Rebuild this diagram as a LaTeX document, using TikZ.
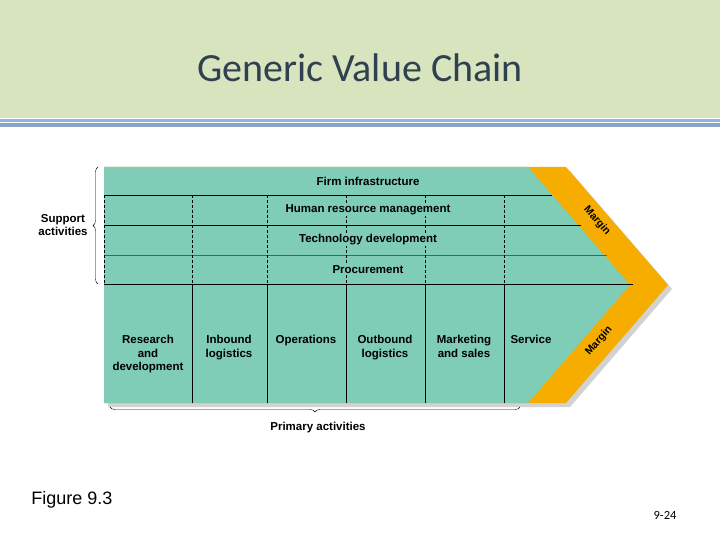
\documentclass[tikz,border=0pt]{standalone}
\usepackage{fontspec}
\setmainfont{Liberation Sans}
\newfontfamily\titlefont{Carlito}
\usetikzlibrary{decorations.pathreplacing}
\definecolor{teal1}{HTML}{7FCDB6}
\definecolor{orng}{HTML}{F6AD00}
\definecolor{band}{HTML}{D8E4BE}
\definecolor{titc}{HTML}{2F4050}
\definecolor{blu}{HTML}{8DB3E2}
\tikzset{lbl/.style={font=\bfseries\fontsize{11.5}{13.5}\selectfont, align=center, inner sep=0pt},
 bg/.style={fill=teal1, inner sep=1pt},
 dv/.style={densely dashed, line width=0.4pt},
 sv/.style={line width=0.5pt}}
\begin{document}
\begin{tikzpicture}[x=1pt,y=-1pt]
\useasboundingbox (0,0) rectangle (720,540);
\fill[white] (0,0) rectangle (720,540);
\fill[band] (0,0) rectangle (720,118);
\fill[blu] (0,119) rectangle (720,122);
\fill[blu!70!gray] (0,123) rectangle (720,127);
\node[font=\titlefont\fontsize{40}{46}\selectfont, text=titc] (title) at (360,68) {Generic Value Chain};
% shadow
\fill[gray!35] (108,171) -- (570,171) -- (672,289) -- (570,407) -- (108,407) -- cycle;
\fill[orng] (104,167) -- (566,167) -- (668,285) -- (566,403) -- (104,403) -- cycle;
\fill[teal1] (104,167) -- (528,167) -- (630,285) -- (528,403) -- (104,403) -- cycle;
% row lines
\draw[sv] (104,195) -- (552,195);
\draw[sv] (104,225) -- (581,225);
\draw[sv,teal1!50!black] (104,255) -- (607,255);
\draw[sv] (104,284) -- (633,284);
% dashed support dividers
\foreach \x in {104,192,267,346,425,504} \draw[dv] (\x,195) -- (\x,284);
% primary dividers
\foreach \x in {192,267,346,425,504} \draw[sv] (\x,284) -- (\x,403);
\node[lbl,bg] (fi) at (368,181) {Firm infrastructure};
\node[lbl,bg] (hr) at (368,210) {Human resource management};
\node[lbl,bg] (td) at (368,240) {Technology development};
\node[lbl,bg] (pr) at (368,270) {Procurement};
\node[lbl, anchor=north] (p1) at (148,335) {Research\\and\\development};
\node[lbl, anchor=north] (p2) at (229,335) {Inbound\\logistics};
\node[lbl, anchor=north] (p3) at (306,335) {Operations};
\node[lbl, anchor=north] (p4) at (385,335) {Outbound\\logistics};
\node[lbl, anchor=north] (p5) at (464,335) {Marketing\\and sales};
\node[lbl, anchor=north] (p6) at (531,335) {Service};
\node[lbl, font=\bfseries\fontsize{10.5}{12}\selectfont, rotate=-49] (m1) at (597,221) {Margin};
\node[lbl, font=\bfseries\fontsize{10.5}{12}\selectfont, rotate=49] (m2) at (599,341) {Margin};
% braces
\coordinate (b1) at (98,284);
\coordinate (b2) at (98,167);
\draw[decorate, decoration={brace, amplitude=5pt}, line width=0.4pt] (b1) -- (b2);
\node[lbl, font=\bfseries\fontsize{11.5}{13.5}\selectfont] (sa) at (63,225) {Support\\activities};
\coordinate (b3) at (520,407);
\coordinate (b4) at (110,407);
\draw[decorate, decoration={brace, amplitude=5pt}, line width=0.4pt] (b3) -- (b4);
\node[lbl, font=\bfseries\fontsize{11.5}{13.5}\selectfont] (pa) at (318,428) {Primary activities};
\node[font=\fontsize{18}{20}\selectfont] (fig) at (72,500) {Figure 9.3};
\node[font=\titlefont\fontsize{12.5}{14}\selectfont] (pg) at (665,515) {9-24};
\end{tikzpicture}
\end{document}
